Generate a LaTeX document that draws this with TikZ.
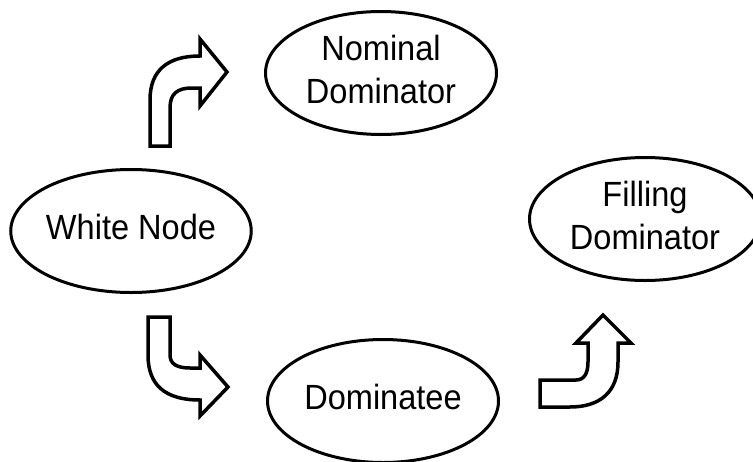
\documentclass[tikz,border=0pt]{standalone}
\usepackage{fontspec}
\setmainfont{Liberation Sans}
\usetikzlibrary{shapes.geometric}
% slightly narrowed, centred label text (one or more lines)
\newcommand{\statelabel}[1]{\scalebox{0.93}[1]{\begin{tabular}{@{}c@{}}#1\end{tabular}}}
\begin{document}
\begin{tikzpicture}[x=1pt,y=-1pt,
  state/.style={draw=black,line width=3pt,ellipse,minimum width=231pt,minimum height=123pt,
    inner sep=0pt,font=\fontsize{35}{43}\selectfont},
  bentarrow/.style={draw=black,fill=white,line width=3.5pt,line join=miter}]
\useasboundingbox (0,0) rectangle (753,461);
\clip (0,0) rectangle (753,461);
\renewcommand{\arraystretch}{1}

% states
\node[state] (white) at (131,231) {\statelabel{White Node}};
\node[state] (nominal) at (381,73) {\statelabel{Nominal\\Dominator}};
\node[state] (filling) at (645,219) {\statelabel{Filling\\Dominator}};
\node[state] (dominatee) at (383,401) {\statelabel{Dominatee}};

% bent arrow: white node -> nominal dominator
\draw[bentarrow] (150,146) -- (150,100) .. controls (150,70) and (168,56) .. (200,56)
  -- (200,39) -- (227,72) -- (200,106) -- (200,88) -- (192,88)
  .. controls (177,88) and (170,94) .. (170,108) -- (170,146) -- cycle;

% bent arrow: white node -> dominatee
\draw[bentarrow] (148,317) -- (170,317) -- (170,355)
  .. controls (170,364) and (177,368) .. (190,368) -- (200,368)
  -- (200,355) -- (228,387) -- (200,416) -- (200,400)
  .. controls (165,400) and (148,385) .. (148,355) -- cycle;

% bent arrow: dominatee -> filling dominator
\draw[bentarrow] (540,380) -- (576,380) .. controls (585,380) and (588,372) .. (588,362)
  -- (588,343) -- (576,343) -- (603,315) -- (631,343) -- (618,343) -- (618,362)
  .. controls (618,392) and (600,407) .. (570,407) -- (540,407) -- cycle;
\end{tikzpicture}
\end{document}
